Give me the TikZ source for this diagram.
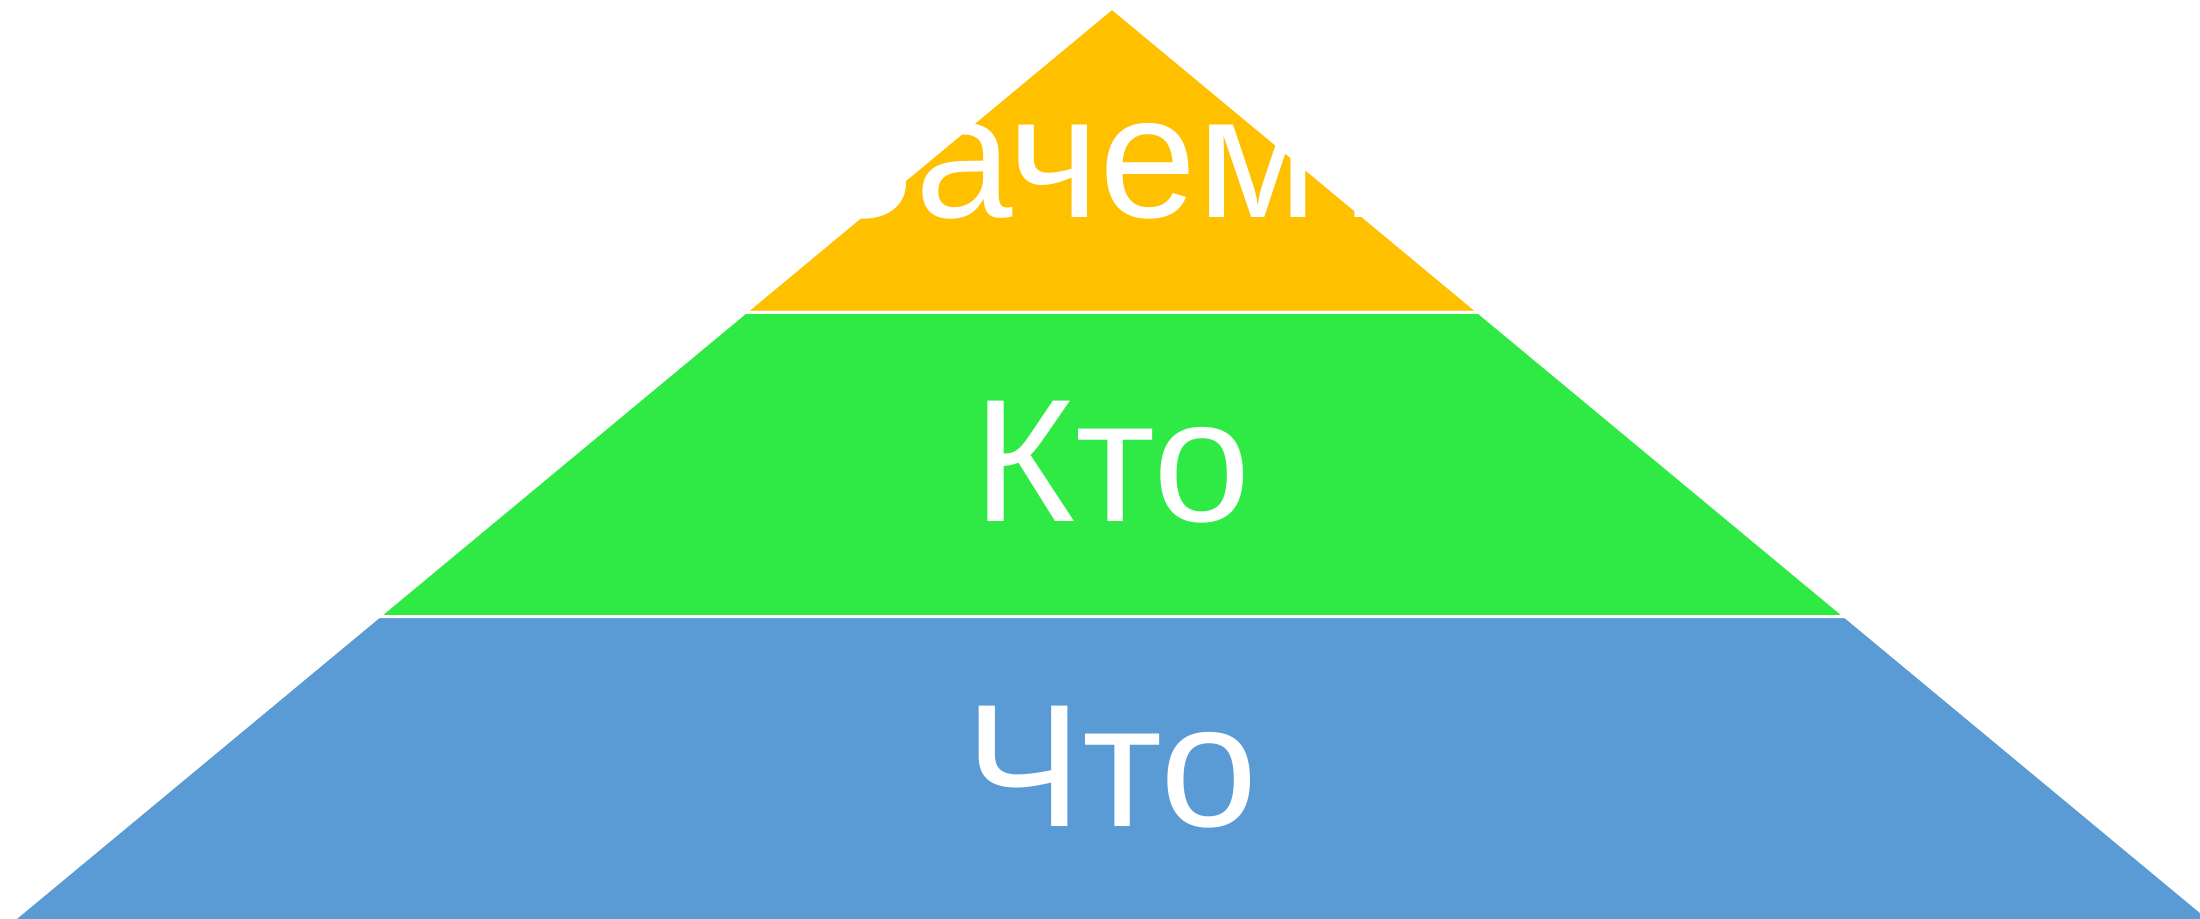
\documentclass[tikz,border=0pt]{standalone}
\usepackage{fontspec}
\setmainfont{Liberation Sans}
\usetikzlibrary{calc}

\definecolor{layerorange}{RGB}{255,192,0}
\definecolor{layergreen}{RGB}{47,234,69}
\definecolor{layerblue}{RGB}{91,155,213}

\tikzset{
  layer/.style={draw=white, line width=1.5pt, line join=miter},
  lbl/.style={text=white, anchor=base, inner sep=0pt, font=\fontsize{87.5}{100}\selectfont}
}

\begin{document}
\begin{tikzpicture}[x=0.5pt,y=-0.5pt]
    \useasboundingbox (0,0) rectangle (2200,918);
    \clip (0,0) rectangle (2200,918);
    \coordinate (top) at (1112,8);
    \coordinate (bl) at (12,921);
    \coordinate (br) at (2212,921);
    % three layers, equal heights
    \filldraw[layer, fill=layerorange] (top) -- ($(top)!1/3!(br)$) -- ($(top)!1/3!(bl)$) -- cycle;
    \filldraw[layer, fill=layergreen] ($(top)!1/3!(bl)$) -- ($(top)!1/3!(br)$) -- ($(top)!2/3!(br)$) -- ($(top)!2/3!(bl)$) -- cycle;
    \filldraw[layer, fill=layerblue] ($(top)!2/3!(bl)$) -- ($(top)!2/3!(br)$) -- (br) -- (bl) -- cycle;
    \node[lbl] (why) at (1112,217) {Зачем?};
    \node[lbl] (who) at (1112,521) {Кто};
    \node[lbl] (what) at (1112,826) {Что};
\end{tikzpicture}
\end{document}
